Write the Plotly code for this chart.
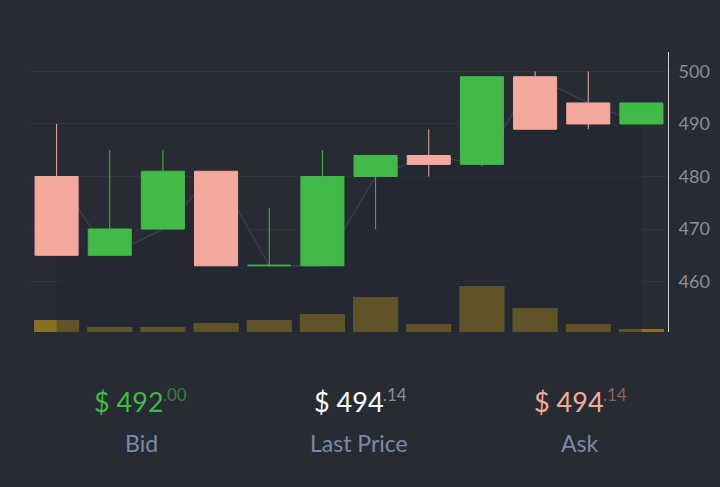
import plotly.graph_objects as go

# candle data
periods = list(range(12))
opens = [480, 465, 470, 481, 463, 463, 480, 484, 482.3, 499, 494, 490]
highs = [490, 485, 485, 481, 474, 485, 484, 489, 499, 500, 500, 494]
lows = [465, 465, 470, 463, 463, 463, 470, 480, 482, 489, 489, 490]
closes = [465, 470, 481, 463, 463.1, 480, 484, 482.3, 499, 489, 490, 494]
volumes = [12, 5, 5, 9, 12, 18, 35, 8, 46, 24, 8, 3]

price_ticks = [460, 470, 480, 490, 500]

quotes = [
    ("Bid", "$ 492", ".00", "#43b947", "#3d7a45"),
    ("Last Price", "$ 494", ".14", "#ffffff", "#8a8f98"),
    ("Ask", "$ 494", ".14", "#f4a99c", "#8c645f"),
]

BG = "#272b34"
GREEN = "#43b947"
RED = "#f4a99c"

W, H = 720, 487
L, R, T, B = 30, 52, 52, 155
PRICE_RANGE = [450.4, 503.7]


def px_x(x):
    return (x - L) / (W - L - R)


def px_y(y):
    return (H - B - y) / (H - T - B)


fig = go.Figure()

# volume on the primary (hidden) axis so it sits below everything
fig.add_trace(
    go.Bar(
        x=periods,
        y=volumes,
        width=0.85,
        marker=dict(color="#8a7022", line=dict(width=0)),
        yaxis="y",
        hoverinfo="skip",
    )
)

# shaded area under the line of opens
fig.add_trace(
    go.Scatter(
        x=periods,
        y=opens,
        mode="lines",
        line=dict(color="#3a3e4a", width=1.5),
        fill="tozeroy",
        fillcolor="rgba(30,36,48,0.38)",
        yaxis="y2",
        hoverinfo="skip",
    )
)

# candles on their own overlay so they sit above the area
fig.add_trace(
    go.Candlestick(
        x=periods,
        open=opens,
        high=highs,
        low=lows,
        close=closes,
        increasing=dict(line=dict(color=GREEN, width=1), fillcolor=GREEN),
        decreasing=dict(line=dict(color=RED, width=1), fillcolor=RED),
        whiskerwidth=0,
        yaxis="y3",
    )
)

centers = [141, 359.5, 580]
num_right = [166, 386, 606]
annotations = []
for (label, main, cents, col, col2), cx, nr in zip(quotes, centers, num_right):
    annotations.append(dict(
        x=px_x(nr), y=px_y(401), xref="paper", yref="paper",
        text=main, showarrow=False, xanchor="right", yanchor="middle",
        font=dict(family="Lato", size=27, color=col),
    ))
    annotations.append(dict(
        x=px_x(nr - 5), y=px_y(394), xref="paper", yref="paper",
        text=cents, showarrow=False, xanchor="left", yanchor="middle",
        font=dict(family="Lato", size=17, color=col2),
    ))
    annotations.append(dict(
        x=px_x(cx), y=px_y(443), xref="paper", yref="paper",
        text=label, showarrow=False, xanchor="center", yanchor="middle",
        font=dict(family="Lato", size=23, color="#7c8aa5"),
    ))

fig.update_layout(
    width=W,
    height=H,
    margin=dict(l=L, r=R, t=T, b=B, autoexpand=False),
    paper_bgcolor=BG,
    plot_bgcolor=BG,
    showlegend=False,
    boxgap=0.19,
    boxgroupgap=0,
    xaxis=dict(
        range=[-0.5, 11.5],
        showgrid=False,
        zeroline=False,
        showticklabels=False,
        rangeslider=dict(visible=False),
    ),
    yaxis=dict(
        range=[0, 280],
        visible=False,
    ),
    yaxis2=dict(
        overlaying="y",
        side="right",
        range=PRICE_RANGE,
        tickvals=price_ticks,
        showgrid=True,
        gridcolor="#30343e",
        gridwidth=1,
        zeroline=False,
        showline=True,
        linecolor="#d4d4d4",
        linewidth=1,
        ticks="",
        ticklabelstandoff=6,
        tickfont=dict(family="Lato", size=18, color="#8a8f98"),
    ),
    yaxis3=dict(
        overlaying="y",
        range=PRICE_RANGE,
        visible=False,
    ),
    annotations=annotations,
)

fig.write_html(
    "out.html",
    config={"displayModeBar": False},
    post_script="document.body.style.margin='0px';",
)
